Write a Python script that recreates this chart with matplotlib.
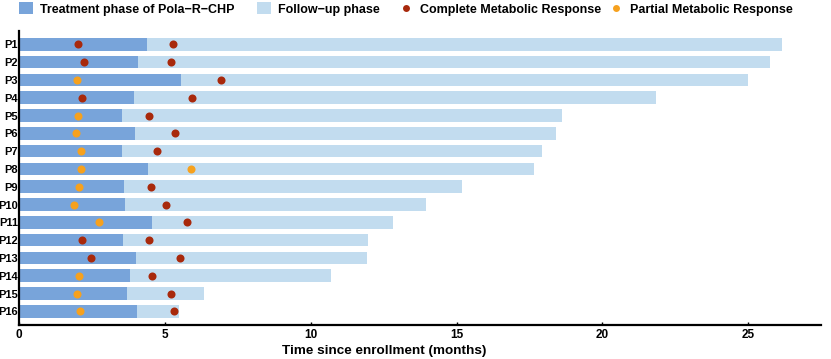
import matplotlib
matplotlib.use("Agg")
import matplotlib.pyplot as plt
from matplotlib.patches import Patch
from matplotlib.lines import Line2D

plt.rcParams['font.family'] = ['Liberation Sans', 'DejaVu Sans']

patients = ["P1", "P2", "P3", "P4", "P5", "P6", "P7", "P8",
            "P9", "P10", "P11", "P12", "P13", "P14", "P15", "P16"]
treatment_end = [4.38, 4.08, 5.53, 3.92, 3.52, 3.98, 3.52, 4.41,
                 3.59, 3.62, 4.55, 3.55, 4.01, 3.81, 3.69, 4.04]
followup_end = [26.16, 25.74, 25.0, 21.82, 18.6, 18.4, 17.94, 17.64,
                15.17, 13.95, 12.83, 11.95, 11.91, 10.7, 6.32, 5.49]
# response assessments: type 'C' complete, 'P' partial
resp1_time = [2.03, 2.23, 1.97, 2.16, 2.03, 1.95, 2.12, 2.12,
              2.05, 1.87, 2.75, 2.16, 2.45, 2.05, 1.99, 2.09]
resp1_type = ["C", "C", "P", "C", "P", "P", "P", "P",
              "P", "P", "P", "C", "C", "P", "P", "P"]
resp2_time = [5.26, 5.22, 6.93, 5.92, 4.45, 5.35, 4.73, 5.88,
              4.5, 5.03, 5.76, 4.45, 5.52, 4.54, 5.22, 5.32]
resp2_type = ["C", "C", "C", "C", "C", "C", "C", "P",
              "C", "C", "C", "C", "C", "C", "C", "C"]

legend_labels = ["Treatment phase of Pola\u2212R\u2212CHP", "Follow\u2212up phase",
                 "Complete Metabolic Response", "Partial Metabolic Response"]

c_treat = "#78A4DA"
c_follow = "#C2DCEF"
c_cmr = "#A8290C"
c_pmr = "#F6A11E"
colors = {"C": c_cmr, "P": c_pmr}

W, H = 831, 359
fig = plt.figure(figsize=(W / 100, H / 100), dpi=100)
ax = fig.add_axes([0.0232, 0.0947, 0.965, 0.819])

y = list(range(len(patients)))
ax.barh(y, followup_end, height=0.7, color=c_follow, edgecolor="none", zorder=1)
ax.barh(y, treatment_end, height=0.7, color=c_treat, edgecolor="none", zorder=2)

for yi, t, k in zip(y, resp1_time, resp1_type):
    ax.plot(t, yi, 'o', color=colors[k], ms=5.8, mec='none', zorder=3)
for yi, t, k in zip(y, resp2_time, resp2_type):
    ax.plot(t, yi, 'o', color=colors[k], ms=5.8, mec='none', zorder=3)

ax.set_xlim(0, 27.5)
ax.set_ylim(15.77, -0.75)
ax.set_yticks(y)
ax.set_yticklabels(patients, fontsize=8, fontweight='bold')
ax.set_xticks([0, 5, 10, 15, 20, 25])
ax.set_xticklabels(["0", "5", "10", "15", "20", "25"], fontsize=8.5, fontweight='bold')
ax.tick_params(axis='y', length=0, pad=1)
ax.tick_params(axis='x', length=2, direction='in', pad=3, width=1)
for s in ["top", "right"]:
    ax.spines[s].set_visible(False)
for s in ["left", "bottom"]:
    ax.spines[s].set_linewidth(1.6)
ax.set_xlabel("Time since enrollment (months)", fontsize=9.7, fontweight='bold')
ax.xaxis.set_label_coords(0.455, -0.068)

handles = [
    Patch(facecolor=c_treat, edgecolor='none'),
    Patch(facecolor=c_follow, edgecolor='none'),
    Line2D([], [], marker='o', color='none', mfc=c_cmr, mec='none', ms=5),
    Line2D([], [], marker='o', color='none', mfc=c_pmr, mec='none', ms=5),
]
legend_x_px = [19, 257, 399, 609]
for h, lab, xp in zip(handles, legend_labels, legend_x_px):
    fig.legend(handles=[h], labels=[lab], loc='center left',
               bbox_to_anchor=(xp / W, 1 - 9 / H), frameon=False,
               prop={'weight': 'bold', 'size': 9}, borderpad=0, borderaxespad=0,
               handlelength=1.15, handleheight=1.1, handletextpad=0.5)

fig.savefig("out.png", dpi=100)
